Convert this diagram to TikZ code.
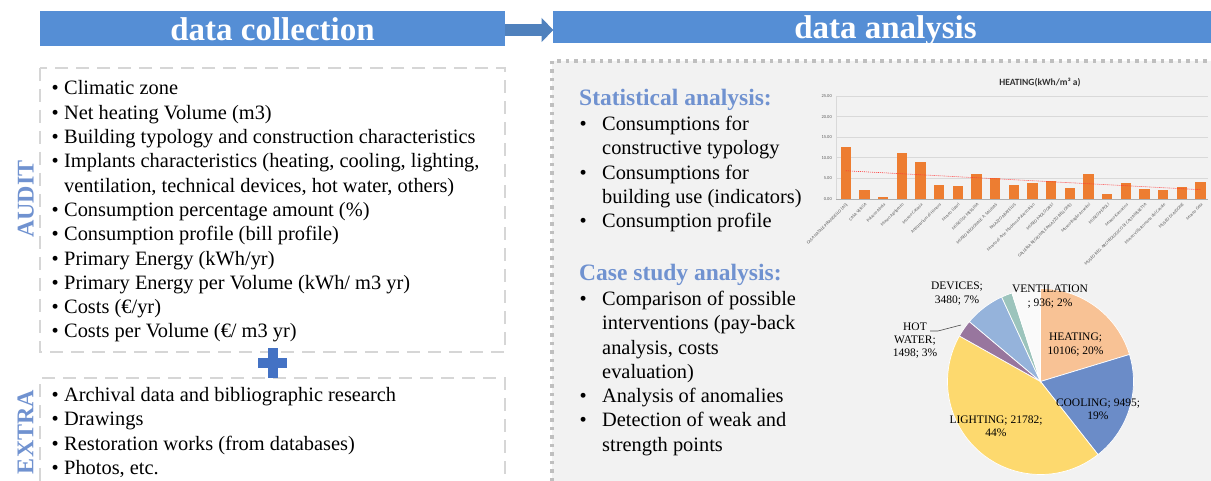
\documentclass[tikz,border=0pt]{standalone}
\usepackage{fontspec}
\setmainfont{Liberation Serif}
\newfontfamily\chartfont{Carlito}
\usetikzlibrary{arrows.meta}
\definecolor{hdrblue}{HTML}{558ED5}
\definecolor{arrowblue}{HTML}{4F81BD}
\definecolor{plusblue}{HTML}{4472C4}
\definecolor{sectblue}{HTML}{7092D0}
\definecolor{dashgray}{HTML}{D6D6D6}
\definecolor{dotgray}{HTML}{BFBFBF}
\definecolor{panelgray}{HTML}{F2F2F2}
\definecolor{barorange}{HTML}{ED7D31}
\definecolor{gridgray}{HTML}{D9D9D9}
\definecolor{axisgray}{HTML}{595959}
\definecolor{pheat}{HTML}{F8C295}
\definecolor{pcool}{HTML}{6B8CC8}
\definecolor{plight}{HTML}{FDD96E}
\definecolor{phot}{HTML}{98769E}
\definecolor{pdev}{HTML}{95B3DB}
\definecolor{pvent}{HTML}{9CC4BC}
\definecolor{poth}{HTML}{FAFAFA}
\newcommand\lbul[1]{\makebox[12.5pt][l]{•}#1}
\newcommand\lcont[1]{\hspace*{12.5pt}#1}
\newcommand\rbul[1]{\makebox[22.5pt][l]{•}#1}
\newcommand\rcont[1]{\hspace*{22.5pt}#1}
\newenvironment{linesblock}{\begin{tabular}[t]{@{}l@{}}}{\end{tabular}}
\begin{document}
\begin{tikzpicture}[x=1pt,y=-1pt,
  hdrbar/.style={fill=hdrblue,inner sep=0,anchor=north west},
  hdrtxt/.style={text=white,inner sep=0,anchor=base,font=\fontsize{33}{36}\selectfont\bfseries},
  listtxt/.style={inner sep=0,anchor=base west,font=\fontsize{20.4}{24.3}\selectfont},
  subhd/.style={inner sep=0,anchor=base west,text=sectblue,font=\fontsize{23.5}{26}\selectfont\bfseries},
  sidelbl/.style={inner sep=0,rotate=90,text=sectblue,font=\fontsize{24}{26}\selectfont\bfseries},
  dashbox/.style={draw=dashgray,line width=2.5pt,dash pattern=on 13pt off 8pt},
  pielbl/.style={inner sep=0,align=center,font=\fontsize{11.5}{13.3}\selectfont},
  slice/.style={draw=white,line width=0.7pt},
  ytick/.style={inner sep=0,anchor=east,text=axisgray,font=\chartfont\fontsize{4.5}{5}\selectfont},
  xlab/.style={inner sep=0,anchor=east,rotate=45,text=axisgray,font=\chartfont\fontsize{4.4}{5}\selectfont},
]
\useasboundingbox (0,0) rectangle (1211,481);
\fill[white] (0,0) rectangle (1211,481);

% ---------- headers ----------
\node[hdrbar,minimum width=465pt,minimum height=35pt] (hl) at (40,11) {};
\node[hdrbar,minimum width=658pt,minimum height=31.5pt] (hr) at (553,11) {};
\node[hdrtxt] (hlt) at (272.5,41) {data collection};
\node[hdrtxt] (hrt) at (885.5,38.5) {data analysis};
\coordinate (as) at (505,30);
\coordinate (ae) at (553.3,30);
\draw[arrowblue,line width=11.7pt,-{Triangle[length=11.6pt,width=23.4pt]}] (as) -- (ae);

% ---------- right panel ----------
\fill[panelgray] (552,61) rectangle (1211,481);
\draw[dotgray,line width=3.5pt,dash pattern=on 3.5pt off 5pt] (552,481) -- (552,61) -- (1211,61);

% ---------- left boxes ----------
\draw[dashbox] (40,68) rectangle (505,352);
\draw[dashbox] (40,481) -- (40,378) -- (505,378) -- (505,481);
\fill[plusblue] (268.3,348.3) rectangle (277.7,378.3);
\fill[plusblue] (258.3,358.3) rectangle (287.3,368.3);

\node[sidelbl] (audit) at (25.7,199) {AUDIT};
\node[sidelbl] (extra) at (25.5,432) {EXTRA};

\node[listtxt] (auditlist) at (51.5,95) {\begin{linesblock}
\lbul{Climatic zone}\\
\lbul{Net heating Volume (m3)}\\
\lbul{Building typology and construction characteristics}\\
\lbul{Implants characteristics (heating, cooling, lighting,}\\
\lcont{ventilation, technical devices, hot water, others)}\\
\lbul{Consumption percentage amount (\%)}\\
\lbul{Consumption profile (bill profile)}\\
\lbul{Primary Energy (kWh/yr)}\\
\lbul{Primary Energy per Volume (kWh/ m3 yr)}\\
\lbul{Costs (€/yr)}\\
\lbul{Costs per Volume (€/ m3 yr)}
\end{linesblock}};

\node[listtxt] (extralist) at (51.5,401.5) {\begin{linesblock}
\lbul{Archival data and bibliographic research}\\
\lbul{Drawings}\\
\lbul{Restoration works (from databases)}\\
\lbul{Photos, etc.}
\end{linesblock}};

% ---------- right texts ----------
\node[subhd] (stat) at (579,105.5) {Statistical analysis:};
\node[listtxt] (statlist) at (579.5,130.5) {\begin{linesblock}
\rbul{Consumptions for}\\
\rcont{constructive typology}\\
\rbul{Consumptions for}\\
\rcont{building use (indicators)}\\
\rbul{Consumption profile}
\end{linesblock}};

\node[subhd] (case) at (579,280) {Case study analysis:};
\node[listtxt] (caselist) at (579.5,305.5) {\begin{linesblock}
\rbul{Comparison of possible}\\
\rcont{interventions (pay-back}\\
\rcont{analysis, costs}\\
\rcont{evaluation)}\\
\rbul{Analysis of anomalies}\\
\rbul{Detection of weak and}\\
\rcont{strength points}
\end{linesblock}};

% ---------- bar chart ----------
\node[inner sep=0,font=\chartfont\bfseries\fontsize{9.5}{11}\selectfont,text=black!80] (ctitle) at (1040,83) {HEATING(kWh/m³ a)};
\foreach \g in {5,10,15,20,25} {
  \draw[gridgray,line width=0.6pt] (836,{199-4.12*\g}) -- (1208,{199-4.12*\g});
}
\draw[gridgray,line width=0.6pt] (836,96) -- (836,199);
\draw[gridgray!80!black,line width=0.6pt] (836,199) -- (1208,199);
\foreach \g/\t in {0/0.00,5/5.00,10/10.00,15/15.00,20/20.00,25/25.00} {
  \node[ytick,name=yt\g] at (832,{199-4.12*\g}) {\t};
}
\foreach \v [count=\i from 0] in {12.74,2.1,0.56,11.13,9.03,3.39,3.23,5.97,5.08,3.47,3.79,4.44,2.58,6.13,1.29,3.87,2.34,2.18,2.9,4.19} {
  \fill[barorange] ({845.8+18.67*\i-5.15},199) rectangle ++(10.3,{-4.12*\v});
}
\draw[red!80,line width=0.6pt,dash pattern=on 1pt off 1pt] (845.8,{199-4.12*6.85}) -- (1200.5,{199-4.12*2.26});
\foreach \lab [count=\i from 0] in {{CASA NATALE PIRANDELLO (AG)},{CASA VERGA},{Palazzo Abela},{Museo Agrigento},{Museo Catania},{Antiquarium di Himera},{Museo Lipari},{MUSEO DI MESSINA},{MUSEO REGIONALE A. SALINAS},{PALAZZO ABATELLIS},{Museo di Arte Moderna Palazzo Riso},{MUSEO PAOLO ORSI},{GALLERIA REGIONALE PALAZZO BELLOMO},{Museo Baglio Anselmi},{MUSEO PEPOLI},{Museo Kamarina},{MUSEO REG. ARCHEOLOGICO DI CALTANISSETTA},{Museo Villa Romana del Casale},{MUSEO DI AIDONE},{Museo Gela}} {
  \node[xlab,name=xl\i] at ({845.8+18.67*\i+1.5},204) {\lab};
}

% ---------- pie chart ----------
\coordinate (pc) at (1040.5,381.5);
\def\pr{93}
\fill[pheat,slice] (pc) -- ++(-90:\pr) arc[start angle=-90,end angle=-16.9,radius=\pr] -- cycle;
\fill[pcool,slice] (pc) -- ++(-16.9:\pr) arc[start angle=-16.9,end angle=51.8,radius=\pr] -- cycle;
\fill[plight,slice] (pc) -- ++(51.8:\pr) arc[start angle=51.8,end angle=209.3,radius=\pr] -- cycle;
\fill[phot,slice] (pc) -- ++(209.3:\pr) arc[start angle=209.3,end angle=220.1,radius=\pr] -- cycle;
\fill[pdev,slice] (pc) -- ++(220.1:\pr) arc[start angle=220.1,end angle=245.3,radius=\pr] -- cycle;
\fill[pvent,slice] (pc) -- ++(245.3:\pr) arc[start angle=245.3,end angle=252.1,radius=\pr] -- cycle;
\fill[poth,slice] (pc) -- ++(252.1:\pr) arc[start angle=252.1,end angle=270,radius=\pr] -- cycle;

\node[pielbl] (lheat) at (1075.5,344.5) {HEATING;\\10106; 20\%};
\node[pielbl] (lcool) at (1098,409) {COOLING; 9495;\\19\%};
\node[pielbl] (llight) at (996,426.5) {LIGHTING; 21782;\\44\%};
\node[pielbl] (lhot) at (915,340.5) {HOT\\WATER;\\1498; 3\%};
\node[pielbl] (ldev) at (957,293.5) {DEVICES;\\3480; 7\%};
\node[pielbl] (lvent) at (1050,296.5) {VENTILATION\\; 936; 2\%};
\coordinate (hwlead) at (930,331);
\coordinate (hwpt) at (961,325);
\draw[black!70,line width=0.6pt] (hwlead) -- ++(8,0) -- (hwpt);
\end{tikzpicture}
\end{document}
